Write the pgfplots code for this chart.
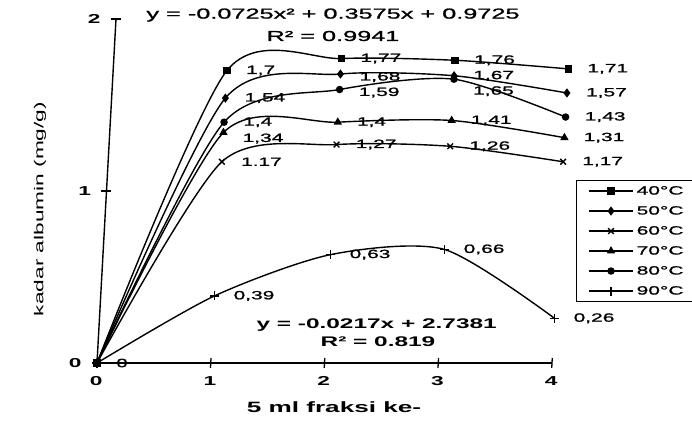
\documentclass[border=0pt]{standalone}
\usepackage{pgfplots}
\usepackage{pgfplotstable}
\pgfplotsset{compat=1.18}
\usepackage{fontspec}
\setmainfont{Liberation Sans}[FakeStretch=1.75]
\newfontfamily\heavy{Liberation Sans}[FakeStretch=1.75, FakeBold=1.2]

% kadar albumin per fraksi, tiap suhu
\pgfplotstableread{
x  t40  t50  t60  t70  t80  t90
0  0    0    0    0    0    0
1  1.70 1.54 1.17 1.34 1.40 0.39
2  1.77 1.68 1.27 1.40 1.59 0.63
3  1.76 1.67 1.26 1.41 1.65 0.66
4  1.71 1.57 1.17 1.31 1.43 0.26
}\albumin

% label nilai di kanan titik
\newcommand{\lbl}[4][0]{\node[anchor=west, inner sep=0pt, xshift=19bp, yshift=#1bp,
  font=\heavy\fontsize{12}{13}\selectfont] at (axis cs:#2,#3) {#4};}

\begin{document}
\begin{tikzpicture}
\begin{axis}[
  anchor=origin, at={(0,0)},
  x={(113.75bp,0bp)}, y={(9.5bp,172bp)},
  xmin=0, xmax=4, ymin=0, ymax=2,
  axis lines=left,
  axis line style={-, line width=1.4bp},
  xtick={0,1,2,3,4}, ytick={0,1,2},
  tick align=center, major tick length=10bp,
  tick style={line width=1.3bp, black},
  ticklabel style={font=\bfseries\fontsize{13}{14}\selectfont},
  /pgf/number format/assume math mode=true,
  xticklabel style={yshift=-5bp},
  yticklabel style={xshift=-7bp},
  clip=false,
  xlabel={5 ml fraksi ke-},
  xlabel style={at={(axis cs:2.105,-0.256)}, anchor=center,
    font=\bfseries\fontsize{15}{16}\selectfont},
  ylabel={kadar albumin (mg/g)},
  ylabel style={at={(axis cs:-0.576,0.895)}, anchor=center, rotate=0,
    font=\fontsize{13}{14}\selectfont},
  every axis plot/.append style={black, line width=1.4bp, smooth, tension=0.45},
  legend image code/.code={\draw[mark repeat=2, mark phase=2, #1]
    plot coordinates {(0bp,0bp) (22bp,0bp) (44bp,0bp)};},
  legend cell align=left,
  legend style={at={(axis cs:4.12,1.064)}, anchor=north west,
    draw=black, line width=1.1bp, inner xsep=12bp, inner ysep=3bp, row sep=5bp,
    font=\heavy\fontsize{12}{13}\selectfont,
    nodes={inner sep=3bp, text height=8bp, text depth=1bp}},
]
\addplot[mark=square*, mark size=3bp, mark options={solid, fill=black}] table[x=x, y=t40] {\albumin};
\addlegendentry{40°C}
\addplot[mark=diamond*, mark size=3.5bp, mark options={solid, fill=black}] table[x=x, y=t50] {\albumin};
\addlegendentry{50°C}
\addplot[mark=x, mark size=4bp, mark options={solid}] table[x=x, y=t60] {\albumin};
\addlegendentry{60°C}
\addplot[mark=triangle*, mark size=3.5bp, mark options={solid, fill=black}] table[x=x, y=t70] {\albumin};
\addlegendentry{70°C}
\addplot[mark=*, mark size=3bp, mark options={solid, fill=black}] table[x=x, y=t80] {\albumin};
\addlegendentry{80°C}
\addplot[mark=+, mark size=4.5bp, mark options={solid}] table[x=x, y=t90] {\albumin};
\addlegendentry{90°C}

% label 40 C
\lbl{1}{1.70}{1,7}  \lbl{2}{1.77}{1,77} \lbl{3}{1.76}{1,76} \lbl{4}{1.71}{1,71}
% 50 C
\lbl{1}{1.54}{1,54} \lbl[-3]{2}{1.68}{1,68} \lbl{3}{1.67}{1,67} \lbl{4}{1.57}{1,57}
% 60 C
\lbl{1}{1.17}{1.17} \lbl{2}{1.27}{1,27} \lbl{3}{1.26}{1,26} \lbl{4}{1.17}{1,17}
% 70 C
\lbl[-6]{1}{1.34}{1,34} \lbl{2}{1.40}{1,4} \lbl{3}{1.41}{1,41} \lbl{4}{1.31}{1,31}
% 80 C
\lbl{1}{1.40}{1,4} \lbl[-3]{2}{1.59}{1,59} \lbl[-12]{3}{1.65}{1,65} \lbl{4}{1.43}{1,43}
% 90 C
\lbl{1}{0.39}{0,39} \lbl{2}{0.63}{0,63} \lbl{3}{0.66}{0,66} \lbl{4}{0.26}{0,26}
\lbl{0}{0}{0}

% persamaan trendline
\node[font=\heavy\fontsize{14.5}{15}\selectfont] at (axis cs:1.906,2.023) {y = -0.0725x² + 0.3575x + 0.9725};
\node[font=\heavy\fontsize{14.5}{15}\selectfont] at (axis cs:1.916,1.901) {R² = 0.9941};
\node[font=\bfseries\fontsize{14}{15}\selectfont] at (axis cs:2.44,0.221) {y = -0.0217x + 2.7381};
\node[font=\bfseries\fontsize{14}{15}\selectfont] at (axis cs:2.46,0.122) {R² = 0.819};
\end{axis}
\pgfresetboundingbox
\path[use as bounding box] (-97bp,-59bp) rectangle (595bp,363bp);
\end{tikzpicture}
\end{document}
